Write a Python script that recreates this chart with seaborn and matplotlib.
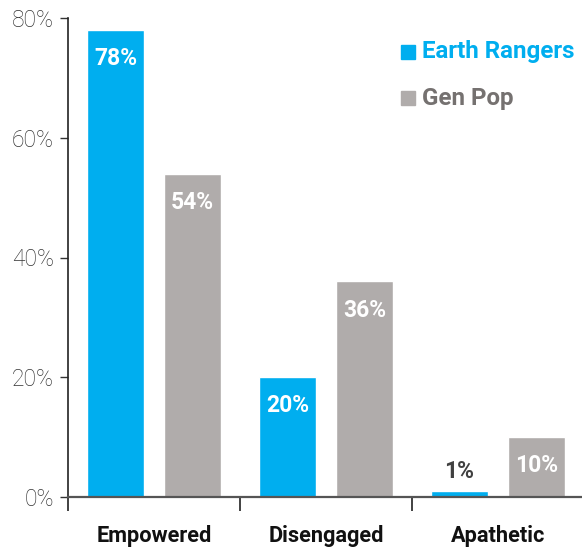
import matplotlib
matplotlib.use("Agg")
import matplotlib.pyplot as plt
from matplotlib.patches import Rectangle
import seaborn as sns
import pandas as pd

categories = ["Empowered", "Disengaged", "Apathetic"]
groups = ["Earth Rangers", "Gen Pop"]
earth_rangers = [78, 20, 1]
gen_pop = [54, 36, 10]
y_ticks = [0, 20, 40, 60, 80]

BLUE = "#00AEEF"
GREY = "#B0ACAB"

df = pd.DataFrame({
    "segment": categories * 2,
    "group": [groups[0]] * 3 + [groups[1]] * 3,
    "pct": earth_rangers + gen_pop,
})

sns.set_style("white")
plt.rcParams["font.family"] = ["Roboto", "DejaVu Sans"]

W, H = 582, 550
fig = plt.figure(figsize=(W / 100, H / 100), dpi=100)
ax = fig.add_axes([68 / W, 1 - 497 / H, 516 / W, 479 / H])

sns.barplot(data=df, x="segment", y="pct", hue="group", order=categories,
            hue_order=groups, palette=[BLUE, GREY], width=0.895, gap=0.27,
            saturation=1, legend=False, ax=ax)

ax.set_xlim(-0.5, 2.5)
ax.set_ylim(0, 80)
ax.set_xlabel("")
ax.set_ylabel("")

# value labels: white inside the bar, dark above very short bars
for container in ax.containers:
    for bar in container:
        h = bar.get_height()
        cx = bar.get_x() + bar.get_width() / 2
        if h >= 5:
            ax.text(cx, h - 4.8, f"{h:.0f}%", ha="center", va="center",
                    color="white", fontsize=16.5, fontweight="bold")
        else:
            ax.text(cx, h + 3.3, f"{h:.0f}%", ha="center", va="center",
                    color="#404040", fontsize=16.5, fontweight="bold")

ax.set_yticks(y_ticks)
ax.set_yticklabels([f"{v}%" for v in y_ticks], fontsize=16.5, color="#333333",
                   fontweight="light")
ax.tick_params(axis="y", length=6, width=1, color="#333333", left=True, pad=4)

# category labels centred, ticks on the category boundaries
ax.set_xticks([0, 1, 2])
ax.set_xticklabels(categories, fontsize=15.7, fontweight="bold", color="#111111")
ax.tick_params(axis="x", length=0, pad=20)
ax.set_xticks([-0.5, 0.5, 1.5], minor=True)
ax.tick_params(axis="x", which="minor", length=10, width=1.3, color="#333333",
               bottom=True)

for side in ["top", "right"]:
    ax.spines[side].set_visible(False)
ax.spines["left"].set_color("#222222")
ax.spines["left"].set_linewidth(1.2)
ax.spines["bottom"].set_color("#555555")
ax.spines["bottom"].set_linewidth(1.6)

# legend drawn as coloured squares and text
legend_rows = [(52, BLUE, BLUE), (98, GREY, "#757170")]
for (y, swatch, txt_color), name in zip(legend_rows, groups):
    fig.patches.append(Rectangle((401 / W, 1 - (y + 7) / H), 14 / W, 14 / H,
                                 transform=fig.transFigure, color=swatch))
    fig.text(422 / W, 1 - y / H, name, color=txt_color, fontsize=17.4,
             fontweight="bold", va="center", ha="left")

fig.savefig("out.png", dpi=100)
